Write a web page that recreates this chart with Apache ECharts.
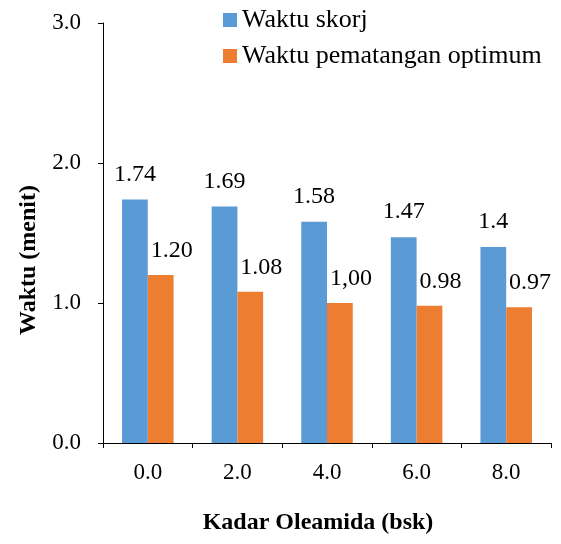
<!DOCTYPE html>
<html>
<head>
<meta charset="utf-8">
<script src="https://cdn.jsdelivr.net/npm/echarts@6/dist/echarts.min.js"></script>
<style>
  html, body { margin: 0; padding: 0; background: #fff; }
  #chart { width: 561px; height: 544px; }
</style>
</head>
<body>
<div id="chart"></div>
<script>
// Oleamide level (bsk) on the x axis
const categories = ['0.0', '2.0', '4.0', '6.0', '8.0'];
// Scorch time and optimum cure time, in minutes
const waktuSkorj = [1.74, 1.69, 1.58, 1.47, 1.40];
const waktuPematangan = [1.20, 1.08, 1.00, 0.98, 0.97];
// Value labels as printed above each bar
const skorjLabels = ['1.74', '1.69', '1.58', '1.47', '1.4'];
const pematanganLabels = ['1.20', '1.08', '1,00', '0.98', '0.97'];
// Y axis ticks
const yTicks = [0, 1, 2, 3];

const FONT = '"Liberation Serif", "Times New Roman", serif';

const chart = echarts.init(document.getElementById('chart'));
chart.setOption({
  animation: false,
  textStyle: { fontFamily: FONT },
  legend: {
    orient: 'vertical',
    left: 223,
    top: 7,
    padding: 0,
    itemWidth: 14,
    itemHeight: 14,
    itemGap: 10,
    itemTextGap: 6,
    icon: 'rect',
    textStyle: { fontFamily: FONT, fontSize: 26, lineHeight: 25, color: '#000' },
    data: ['Waktu skorj', 'Waktu pematangan optimum']
  },
  grid: { left: 103, right: 10, top: 23, bottom: 101 },
  xAxis: {
    type: 'category',
    data: categories,
    name: 'Kadar Oleamida (bsk)',
    nameLocation: 'middle',
    nameGap: 68,
    nameTextStyle: { fontFamily: FONT, fontSize: 24, fontWeight: 'bold', color: '#000', padding: [0, 18, 0, 0] },
    axisLine: { lineStyle: { color: '#000', width: 1 } },
    axisTick: { show: true, length: 5, lineStyle: { color: '#000' } },
    axisLabel: { fontFamily: FONT, fontSize: 23, color: '#000', margin: 18 }
  },
  yAxis: {
    type: 'value',
    min: yTicks[0],
    max: yTicks[yTicks.length - 1],
    interval: 1,
    name: 'Waktu (menit)',
    nameLocation: 'middle',
    nameGap: 62,
    nameTextStyle: { fontFamily: FONT, fontSize: 24, fontWeight: 'bold', color: '#000', padding: [0, 54, 0, 0] },
    axisLine: { show: true, lineStyle: { color: '#000', width: 1 } },
    axisTick: { show: true, length: 5, lineStyle: { color: '#000' } },
    splitLine: { show: false },
    axisLabel: {
      fontFamily: FONT, fontSize: 23, color: '#000', margin: 22,
      formatter: v => v.toFixed(1)
    }
  },
  series: [
    {
      name: 'Waktu skorj',
      type: 'bar',
      data: waktuSkorj,
      barGap: '0%',
      barCategoryGap: '42.5%',
      itemStyle: { color: '#5B9BD5' },
      label: {
        show: true,
        position: 'top',
        distance: 13,
        fontFamily: FONT,
        fontSize: 24,
        color: '#000',
        formatter: p => skorjLabels[p.dataIndex]
      }
    },
    {
      name: 'Waktu pematangan optimum',
      type: 'bar',
      data: waktuPematangan,
      itemStyle: { color: '#ED7D31' },
      label: {
        show: true,
        position: 'top',
        distance: 12,
        offset: [11, 0],
        fontFamily: FONT,
        fontSize: 24,
        color: '#000',
        formatter: p => pematanganLabels[p.dataIndex]
      }
    }
  ]
});
</script>
</body>
</html>
